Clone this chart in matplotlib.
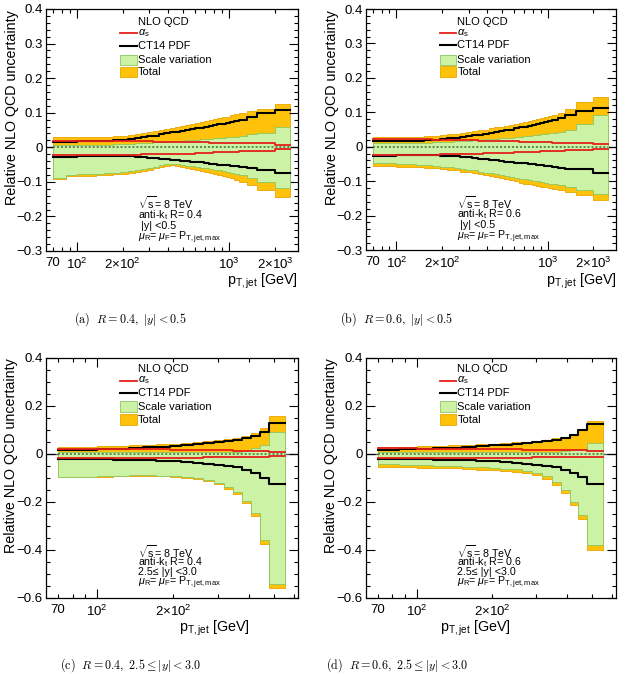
import numpy as np
import matplotlib
matplotlib.use("Agg")
import matplotlib.pyplot as plt
from matplotlib.lines import Line2D
from matplotlib.patches import Rectangle
from matplotlib.ticker import FixedLocator, FixedFormatter

plt.rcParams['font.family'] = ['Liberation Sans', 'DejaVu Sans']
plt.rcParams['mathtext.fontset'] = 'custom'
plt.rcParams['mathtext.rm'] = 'Liberation Sans'
plt.rcParams['mathtext.it'] = 'Liberation Sans:italic'
plt.rcParams['mathtext.bf'] = 'Liberation Sans:bold'
plt.rcParams['mathtext.sf'] = 'Liberation Sans'
plt.rcParams['axes.unicode_minus'] = True

# ---------------- data ----------------
central_edges = [70, 85, 100, 116, 134, 152, 172, 194, 216, 240, 264, 290, 318, 346, 376,
                 408, 442, 478, 516, 556, 598, 642, 688, 736, 786, 838, 894, 952, 1012,
                 1076, 1162, 1310, 1530, 1992, 2500]
forward_edges = [70, 85, 100, 116, 134, 152, 172, 194, 216, 240, 264, 290, 318, 346, 376,
                 408, 442, 478, 556]

# (a) R=0.4, |y|<0.5
a_alphas_up = [0.018, 0.018, 0.018, 0.018, 0.018, 0.018, 0.018, 0.018, 0.017, 0.017, 0.017, 0.017,
               0.016, 0.016, 0.016, 0.015, 0.015, 0.015, 0.015, 0.014, 0.014, 0.014, 0.014, 0.013,
               0.013, 0.013, 0.013, 0.012, 0.012, 0.012, 0.012, 0.011, 0.011, 0.007]
a_alphas_dn = [-0.022, -0.022, -0.022, -0.022, -0.022, -0.021, -0.021, -0.021, -0.021, -0.021, -0.020,
               -0.020, -0.020, -0.020, -0.019, -0.019, -0.019, -0.018, -0.018, -0.018, -0.017, -0.017,
               -0.016, -0.016, -0.015, -0.015, -0.014, -0.014, -0.013, -0.013, -0.012, -0.012, -0.011,
               -0.005]
a_pdf_up = [0.016, 0.016, 0.017, 0.017, 0.018, 0.019, 0.020, 0.021, 0.023, 0.026, 0.029, 0.032,
            0.034, 0.037, 0.040, 0.043, 0.045, 0.048, 0.050, 0.052, 0.055, 0.057, 0.060, 0.062,
            0.064, 0.066, 0.068, 0.070, 0.072, 0.075, 0.079, 0.087, 0.098, 0.108]
a_pdf_dn = [-0.028, -0.027, -0.026, -0.025, -0.024, -0.024, -0.024, -0.025, -0.026, -0.027, -0.028,
            -0.030, -0.031, -0.033, -0.035, -0.036, -0.038, -0.039, -0.040, -0.042, -0.043, -0.044,
            -0.046, -0.047, -0.048, -0.050, -0.051, -0.052, -0.053, -0.055, -0.058, -0.061, -0.065,
            -0.075]
a_scale_up = [0.008, 0.008, 0.008, 0.008, 0.008, 0.008, 0.009, 0.009, 0.010, 0.011, 0.012, 0.013,
              0.014, 0.015, 0.016, 0.017, 0.018, 0.019, 0.020, 0.021, 0.022, 0.023, 0.024, 0.025,
              0.026, 0.027, 0.028, 0.029, 0.030, 0.031, 0.034, 0.037, 0.042, 0.060]
a_scale_dn = [-0.088, -0.079, -0.078, -0.077, -0.076, -0.075, -0.073, -0.071, -0.069, -0.066, -0.063,
              -0.060, -0.056, -0.052, -0.048, -0.047, -0.049, -0.051, -0.053, -0.055, -0.057, -0.059,
              -0.061, -0.063, -0.065, -0.067, -0.069, -0.071, -0.073, -0.076, -0.080, -0.088, -0.100,
              -0.118]
a_total_up = [0.029, 0.029, 0.029, 0.030, 0.030, 0.031, 0.032, 0.033, 0.035, 0.038, 0.041, 0.044,
              0.047, 0.050, 0.053, 0.056, 0.059, 0.062, 0.065, 0.068, 0.071, 0.074, 0.077, 0.079,
              0.082, 0.085, 0.087, 0.089, 0.092, 0.095, 0.099, 0.105, 0.110, 0.125]
a_total_dn = [-0.093, -0.084, -0.083, -0.082, -0.081, -0.080, -0.078, -0.076, -0.074, -0.071, -0.068,
              -0.065, -0.061, -0.057, -0.053, -0.052, -0.055, -0.057, -0.060, -0.063, -0.066, -0.069,
              -0.072, -0.075, -0.078, -0.081, -0.084, -0.087, -0.090, -0.094, -0.099, -0.108, -0.124,
              -0.143]

# (b) R=0.6, |y|<0.5
b_alphas_up = [0.021, 0.021, 0.021, 0.021, 0.021, 0.021, 0.020, 0.020, 0.020, 0.020, 0.019, 0.019,
               0.019, 0.018, 0.018, 0.018, 0.017, 0.017, 0.017, 0.016, 0.016, 0.015, 0.015, 0.015,
               0.014, 0.014, 0.013, 0.013, 0.013, 0.012, 0.012, 0.011, 0.010, 0.008]
b_alphas_dn = [-0.024, -0.024, -0.024, -0.024, -0.023, -0.023, -0.023, -0.022, -0.022, -0.022, -0.021,
               -0.021, -0.020, -0.020, -0.019, -0.019, -0.018, -0.018, -0.017, -0.017, -0.016, -0.016,
               -0.015, -0.015, -0.014, -0.014, -0.013, -0.013, -0.012, -0.012, -0.011, -0.010, -0.009,
               -0.006]
b_pdf_up = [0.017, 0.017, 0.017, 0.018, 0.018, 0.019, 0.020, 0.022, 0.024, 0.026, 0.028, 0.030,
            0.033, 0.035, 0.038, 0.040, 0.043, 0.045, 0.048, 0.050, 0.053, 0.056, 0.058, 0.061,
            0.064, 0.067, 0.069, 0.072, 0.075, 0.078, 0.083, 0.092, 0.103, 0.111]
b_pdf_dn = [-0.027, -0.026, -0.025, -0.024, -0.024, -0.024, -0.025, -0.026, -0.027, -0.028, -0.030,
            -0.031, -0.033, -0.035, -0.036, -0.038, -0.040, -0.041, -0.043, -0.044, -0.046, -0.047,
            -0.048, -0.050, -0.051, -0.052, -0.053, -0.055, -0.056, -0.058, -0.061, -0.065, -0.066,
            -0.077]
b_scale_up = [0.010, 0.010, 0.010, 0.011, 0.011, 0.012, 0.013, 0.014, 0.015, 0.016, 0.017, 0.018,
              0.019, 0.020, 0.021, 0.022, 0.023, 0.024, 0.025, 0.026, 0.027, 0.029, 0.030, 0.031,
              0.033, 0.034, 0.036, 0.037, 0.039, 0.041, 0.044, 0.050, 0.066, 0.092]
b_scale_dn = [-0.046, -0.047, -0.049, -0.050, -0.052, -0.054, -0.056, -0.058, -0.060, -0.062, -0.064,
              -0.067, -0.069, -0.072, -0.075, -0.077, -0.080, -0.083, -0.085, -0.088, -0.090, -0.093,
              -0.095, -0.097, -0.099, -0.101, -0.103, -0.105, -0.107, -0.109, -0.112, -0.116, -0.126,
              -0.136]
b_total_up = [0.027, 0.027, 0.027, 0.028, 0.029, 0.030, 0.032, 0.034, 0.036, 0.038, 0.040, 0.043,
              0.045, 0.048, 0.050, 0.053, 0.056, 0.058, 0.061, 0.064, 0.067, 0.069, 0.072, 0.075,
              0.078, 0.081, 0.083, 0.086, 0.089, 0.092, 0.097, 0.110, 0.129, 0.145]
b_total_dn = [-0.056, -0.057, -0.058, -0.059, -0.060, -0.062, -0.063, -0.065, -0.067, -0.069, -0.072,
              -0.074, -0.077, -0.080, -0.083, -0.086, -0.089, -0.092, -0.095, -0.098, -0.101, -0.104,
              -0.107, -0.109, -0.112, -0.114, -0.116, -0.118, -0.121, -0.124, -0.127, -0.131, -0.140,
              -0.156]

# (c) R=0.4, 2.5<=|y|<3.0
c_alphas_up = [0.022, 0.021, 0.021, 0.020, 0.020, 0.019, 0.019, 0.018, 0.017, 0.017, 0.016, 0.016,
               0.015, 0.014, 0.013, 0.012, 0.011, 0.010]
c_alphas_dn = [-0.018, -0.018, -0.018, -0.017, -0.017, -0.017, -0.016, -0.016, -0.015, -0.015, -0.014,
               -0.014, -0.013, -0.013, -0.012, -0.011, -0.011, -0.010]
c_pdf_up = [0.016, 0.017, 0.019, 0.022, 0.025, 0.028, 0.031, 0.035, 0.038, 0.042, 0.045, 0.049,
            0.054, 0.059, 0.066, 0.076, 0.093, 0.128]
c_pdf_dn = [-0.021, -0.021, -0.022, -0.023, -0.025, -0.027, -0.029, -0.031, -0.034, -0.037, -0.040,
            -0.044, -0.049, -0.056, -0.066, -0.080, -0.098, -0.126]
c_scale_up = [0.007, 0.007, 0.007, 0.007, 0.007, 0.007, 0.007, 0.007, 0.007, 0.007, 0.008, 0.008,
              0.009, 0.010, 0.014, 0.025, 0.036, 0.090]
c_scale_dn = [-0.094, -0.094, -0.093, -0.090, -0.089, -0.089, -0.090, -0.092, -0.096, -0.101, -0.108,
              -0.120, -0.138, -0.160, -0.195, -0.245, -0.360, -0.540]
c_total_up = [0.029, 0.030, 0.032, 0.034, 0.036, 0.038, 0.040, 0.043, 0.046, 0.049, 0.053, 0.057,
              0.062, 0.068, 0.076, 0.088, 0.108, 0.158]
c_total_dn = [-0.097, -0.097, -0.096, -0.093, -0.092, -0.092, -0.093, -0.096, -0.100, -0.105, -0.113,
              -0.126, -0.145, -0.168, -0.205, -0.257, -0.375, -0.557]

# (d) R=0.6, 2.5<=|y|<3.0
d_alphas_up = [0.023, 0.023, 0.022, 0.022, 0.021, 0.021, 0.020, 0.020, 0.019, 0.019, 0.018, 0.018,
               0.017, 0.017, 0.016, 0.015, 0.015, 0.014]
d_alphas_dn = [-0.018, -0.018, -0.018, -0.017, -0.017, -0.017, -0.016, -0.016, -0.016, -0.015, -0.015,
               -0.014, -0.014, -0.013, -0.013, -0.012, -0.012, -0.011]
d_pdf_up = [0.017, 0.019, 0.021, 0.024, 0.027, 0.030, 0.033, 0.036, 0.039, 0.042, 0.045, 0.049,
            0.053, 0.058, 0.066, 0.078, 0.098, 0.125]
d_pdf_dn = [-0.021, -0.021, -0.022, -0.023, -0.025, -0.027, -0.029, -0.031, -0.034, -0.037, -0.040,
            -0.044, -0.049, -0.056, -0.066, -0.080, -0.097, -0.125]
d_scale_up = [0.007, 0.007, 0.007, 0.007, 0.007, 0.007, 0.007, 0.007, 0.007, 0.007, 0.007, 0.007,
              0.008, 0.009, 0.011, 0.015, 0.022, 0.047]
d_scale_dn = [-0.043, -0.044, -0.046, -0.049, -0.050, -0.053, -0.056, -0.058, -0.061, -0.064, -0.070,
              -0.078, -0.092, -0.117, -0.150, -0.199, -0.254, -0.381]
d_total_up = [0.030, 0.031, 0.032, 0.034, 0.036, 0.038, 0.040, 0.043, 0.046, 0.049, 0.052, 0.056,
              0.060, 0.065, 0.072, 0.084, 0.104, 0.139]
d_total_dn = [-0.054, -0.055, -0.057, -0.059, -0.060, -0.063, -0.066, -0.068, -0.071, -0.074, -0.080,
              -0.088, -0.103, -0.130, -0.163, -0.213, -0.270, -0.402]

central_xlabels = ['70', r'$10^{2}$', r'$2{\times}10^{2}$', r'$10^{3}$', r'$2{\times}10^{3}$']
forward_xlabels = ['70', r'$10^{2}$', r'$2{\times}10^{2}$']
central_ylabels = ['\u22120.3', '\u22120.2', '\u22120.1', '0', '0.1', '0.2', '0.3', '0.4']
forward_ylabels = ['\u22120.6', '\u22120.4', '\u22120.2', '0', '0.2', '0.4']

captions = [r'$\mathrm{(a)}\ \ R=0.4,\ |y|<0.5$',
            r'$\mathrm{(b)}\ \ R=0.6,\ |y|<0.5$',
            r'$\mathrm{(c)}\ \ R=0.4,\ 2.5\leq|y|<3.0$',
            r'$\mathrm{(d)}\ \ R=0.6,\ 2.5\leq|y|<3.0$']

# ---------------- style ----------------
ORANGE = '#FFC20A'
ORANGE_EDGE = '#E9A400'
GREEN = '#CCF2A6'
GREEN_EDGE = '#8CC85C'
RED = '#E3201B'

W, H = 627, 674
fig = plt.figure(figsize=(W / 100, H / 100), dpi=100)


def px_axes(l, t, r, b):
    return fig.add_axes([l / W, 1 - b / H, (r - l) / W, (b - t) / H])


def ext(v):
    v = np.asarray(v, float)
    return np.r_[v, v[-1]]


def draw(ax, edges, al_up, al_dn, pdf_up, pdf_dn, sc_up, sc_dn, tot_up, tot_dn):
    e = np.asarray(edges, float)
    ax.axhline(0, color='#555555', lw=1.0, zorder=0.5)
    ax.fill_between(e, ext(tot_dn), ext(tot_up), step='post', facecolor=ORANGE,
                    edgecolor=ORANGE_EDGE, lw=0.6, zorder=1)
    ax.fill_between(e, ext(sc_dn), ext(sc_up), step='post', facecolor=GREEN,
                    edgecolor=GREEN_EDGE, lw=0.6, zorder=2)
    ax.plot([e[0], e[-1]], [0, 0], ls=(0, (1.3, 1.3)), color='#3c6e3c', lw=1.1, zorder=3)
    for v in (pdf_up, pdf_dn):
        ax.step(e, ext(v), where='post', color='black', lw=1.5, zorder=4)
    for v in (al_up, al_dn):
        ax.step(e, ext(v), where='post', color=RED, lw=1.3, zorder=5)


def setup(ax, central):
    ax.set_xscale('log')
    if central:
        ax.set_xlim(63, 2830)
        ax.set_ylim(-0.3, 0.4)
        ax.yaxis.set_major_locator(FixedLocator(np.arange(-0.3, 0.401, 0.1)))
        ax.yaxis.set_major_formatter(FixedFormatter(central_ylabels))
        ax.yaxis.set_minor_locator(FixedLocator(np.arange(-0.3, 0.401, 0.02)))
        minors = [70, 80, 90, 200, 300, 400, 500, 600, 700, 800, 900, 2000]
        mlabels = ['70', '', '', central_xlabels[2], '', '', '', '', '', '', '', central_xlabels[4]]
        ax.xaxis.set_major_locator(FixedLocator([100, 1000]))
        ax.xaxis.set_major_formatter(FixedFormatter([central_xlabels[1], central_xlabels[3]]))
    else:
        ax.set_xlim(62.8, 625)
        ax.set_ylim(-0.6, 0.4)
        ax.yaxis.set_major_locator(FixedLocator(np.arange(-0.6, 0.401, 0.2)))
        ax.yaxis.set_major_formatter(FixedFormatter(forward_ylabels))
        ax.yaxis.set_minor_locator(FixedLocator(np.arange(-0.6, 0.401, 0.05)))
        minors = [70, 80, 90, 200, 300, 400, 500, 600]
        mlabels = ['70', '', '', forward_xlabels[2], '', '', '', '']
        ax.xaxis.set_major_locator(FixedLocator([100]))
        ax.xaxis.set_major_formatter(FixedFormatter([forward_xlabels[1]]))
    ax.xaxis.set_minor_locator(FixedLocator(minors))
    ax.xaxis.set_minor_formatter(FixedFormatter(mlabels))
    ax.tick_params(which='both', direction='in', top=True, right=True, labelsize=9.5,
                   width=0.8, color='black')
    ax.tick_params(which='major', length=6.5)
    ax.tick_params(which='minor', length=3.2)
    ax.tick_params(axis='x', which='both', pad=4)
    ax.tick_params(axis='y', which='both', pad=2.5)
    for s in ax.spines.values():
        s.set_linewidth(0.9)


def legend(ax, rlabel, ylabel_txt, top_row):
    if top_row:
        ys = [0.946, 0.899, 0.849, 0.789, 0.740]
        ts = [0.198, 0.149, 0.103, 0.054]
    else:
        ys = [0.953, 0.906, 0.854, 0.797, 0.743]
        ts = [0.192, 0.150, 0.108, 0.064]
    tx = 0.365
    hx0, hx1 = 0.294, 0.360
    fs = 8.0
    fs2 = 7.7
    ax.text(tx, ys[0], 'NLO QCD', transform=ax.transAxes, fontsize=fs, va='center', ha='left')
    ax.text(tx, ys[1], r'$\alpha_{\mathrm{s}}$', transform=ax.transAxes, fontsize=fs, va='center')
    ax.add_line(Line2D([hx0, hx1], [ys[1], ys[1]], transform=ax.transAxes, color=RED, lw=1.3))
    ax.text(tx, ys[2], 'CT14 PDF', transform=ax.transAxes, fontsize=fs, va='center')
    ax.add_line(Line2D([hx0, hx1], [ys[2], ys[2]], transform=ax.transAxes, color='black', lw=1.5))
    ax.text(tx, ys[3], 'Scale variation', transform=ax.transAxes, fontsize=fs, va='center')
    bh = 0.044
    ax.add_patch(Rectangle((hx0, ys[3] - bh / 2), hx1 - hx0, bh, transform=ax.transAxes,
                           facecolor=GREEN, edgecolor=GREEN_EDGE, lw=0.6))
    ax.text(tx, ys[4], 'Total', transform=ax.transAxes, fontsize=fs, va='center')
    ax.add_patch(Rectangle((hx0, ys[4] - bh / 2), hx1 - hx0, bh, transform=ax.transAxes,
                           facecolor=ORANGE, edgecolor=ORANGE_EDGE, lw=0.6))
    lines = [r'$\sqrt{\mathrm{s}}$= 8 TeV',
             r'anti-k$_{\mathrm{t}}$ R= ' + rlabel,
             ylabel_txt,
             r'$\mu_{\mathrm{R}}$= $\mu_{\mathrm{F}}$= P$_{\mathrm{T,jet,max}}$']
    for t, y in zip(lines, ts):
        ax.text(tx, y, t, transform=ax.transAxes, fontsize=fs2, va='center', ha='left')


panels = [
    dict(box=(46, 9, 298, 251), edges=central_edges, central=True, R='0.4', y=' |y| <0.5',
         data=(a_alphas_up, a_alphas_dn, a_pdf_up, a_pdf_dn, a_scale_up, a_scale_dn, a_total_up, a_total_dn),
         ylab=(12.5, 10), xlab=(298, 285), cap=(130, 319)),
    dict(box=(366, 9, 616, 250), edges=central_edges, central=True, R='0.6', y=' |y| <0.5',
         data=(b_alphas_up, b_alphas_dn, b_pdf_up, b_pdf_dn, b_scale_up, b_scale_dn, b_total_up, b_total_dn),
         ylab=(332, 10), xlab=(617, 285), cap=(397, 319)),
    dict(box=(46, 358, 298, 598), edges=forward_edges, central=False, R='0.4', y='2.5\u2264 |y| <3.0',
         data=(c_alphas_up, c_alphas_dn, c_pdf_up, c_pdf_dn, c_scale_up, c_scale_dn, c_total_up, c_total_dn),
         ylab=(11, 358), xlab=(250, 632), cap=(131, 665)),
    dict(box=(366, 358, 616, 598), edges=forward_edges, central=False, R='0.6', y='2.5\u2264 |y| <3.0',
         data=(d_alphas_up, d_alphas_dn, d_pdf_up, d_pdf_dn, d_scale_up, d_scale_dn, d_total_up, d_total_dn),
         ylab=(331, 358), xlab=(511, 632), cap=(397, 665)),
]

for i, p in enumerate(panels):
    ax = px_axes(*p['box'])
    draw(ax, p['edges'], *p['data'])
    setup(ax, p['central'])
    legend(ax, p['R'], p['y'], p['central'])
    fig.text(p['ylab'][0] / W, 1 - p['ylab'][1] / H, 'Relative NLO QCD uncertainty',
             rotation=90, ha='center', va='top', fontsize=10.3)
    fig.text(p['xlab'][0] / W, 1 - p['xlab'][1] / H, r'p$_{\mathrm{T,jet}}$ [GeV]',
             ha='right', va='baseline', fontsize=10.3)
    fig.text(p['cap'][0] / W, 1 - p['cap'][1] / H, captions[i], ha='center', va='center',
             fontsize=8.7, math_fontfamily='cm')

fig.savefig('out.png', dpi=100)
